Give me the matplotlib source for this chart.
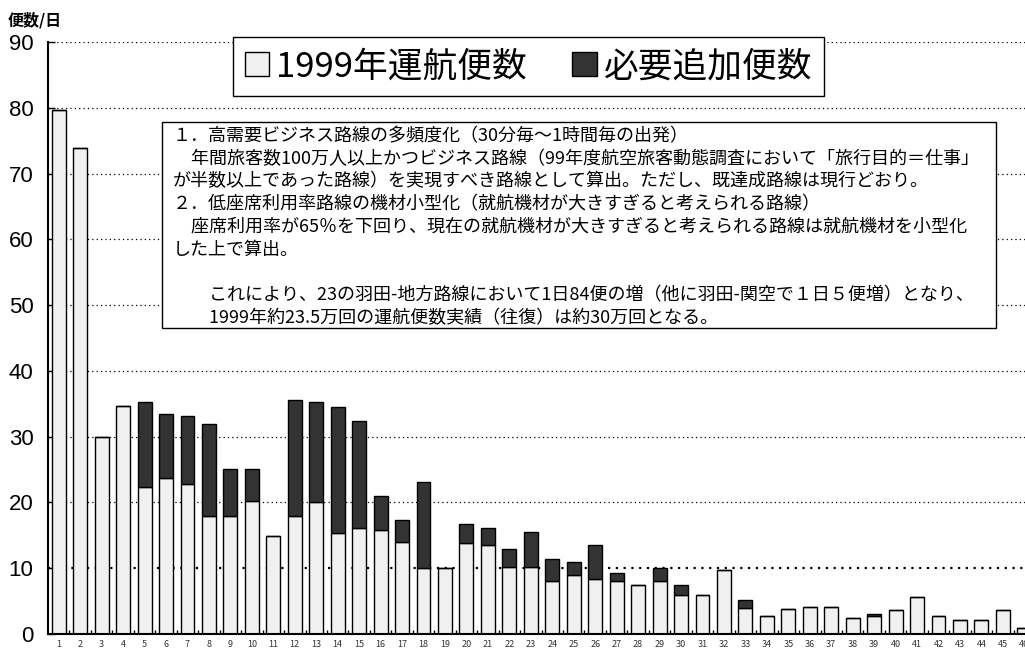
import numpy as np
import matplotlib
matplotlib.use("Agg")
import matplotlib.pyplot as plt
from matplotlib.patches import Patch, Rectangle

plt.rcParams['font.family'] = ['Noto Sans CJK JP', 'DejaVu Sans']

## DATA
routes = list(range(1, 47))
flights_1999 = [79.7, 73.9, 30.0, 34.7, 22.3, 23.7, 22.8, 18.0, 18.0, 20.2,
                14.9, 18.0, 20.0, 15.3, 16.1, 15.8, 14.0, 10.1, 10.0, 13.8,
                13.5, 10.2, 10.2, 8.0, 8.9, 8.4, 8.0, 7.5, 8.0, 6.0,
                6.0, 9.7, 4.0, 2.8, 3.75, 4.05, 4.05, 2.4, 2.7, 3.6,
                5.7, 2.8, 2.1, 2.1, 3.6, 0.9]
flights_added = [0, 0, 0, 0, 12.9, 9.8, 10.4, 14.0, 7.1, 4.9,
                 0, 17.6, 15.3, 19.2, 16.3, 5.2, 3.4, 13.0, 0, 2.9,
                 2.6, 2.7, 5.3, 3.4, 2.0, 5.1, 1.2, 0, 2.0, 1.4,
                 0, 0, 1.2, 0, 0, 0, 0, 0, 0.4, 0,
                 0, 0, 0, 0, 0, 0]
yticks = list(range(0, 91, 10))
legend_labels = ['1999年運航便数', '必要追加便数']
note_lines = [
    '１．高需要ビジネス路線の多頻度化（30分毎～1時間毎の出発）',
    '　年間旅客数100万人以上かつビジネス路線（99年度航空旅客動態調査において「旅行目的＝仕事」',
    'が半数以上であった路線）を実現すべき路線として算出。ただし、既達成路線は現行どおり。',
    '２．低座席利用率路線の機材小型化（就航機材が大きすぎると考えられる路線）',
    '　座席利用率が65％を下回り、現在の就航機材が大きすぎると考えられる路線は就航機材を小型化',
    'した上で算出。',
    '',
    '　　これにより、23の羽田-地方路線において1日84便の増（他に羽田-関空で１日５便増）となり、',
    '　　1999年約23.5万回の運航便数実績（往復）は約30万回となる。',
]

W, H = 1025, 653
base_color = '#f0f0f0'
add_color = '#333333'

fig = plt.figure(figsize=(W / 100, H / 100), dpi=100)
ax = fig.add_axes([48 / W, 19 / H, 977 / W, 592 / H])

x = np.array(routes)
ax.bar(x, flights_1999, width=0.65, color=base_color, edgecolor='black', linewidth=1.0, zorder=2)
ax.bar(x, flights_added, bottom=flights_1999, width=0.65, color=add_color,
       edgecolor='black', linewidth=1.0, zorder=2)

ax.set_xlim(0.5, 46.03)
ax.set_ylim(0, 90)

# dotted gridlines
ax.set_yticks(yticks)
ax.yaxis.grid(True, color='black', linestyle=(0, (1, 2.5)), linewidth=0.9, zorder=1)
ax.set_axisbelow(True)
for i, gl in enumerate(ax.get_ygridlines()):
    if yticks[i] == 10:
        gl.set_linewidth(1.6)

ax.tick_params(axis='y', direction='in', length=5, width=1, pad=10.5, labelsize=16)
for lab in ax.get_yticklabels():
    lab.set_fontfamily('Liberation Sans')

ax.set_xticks(x)
ax.set_xticklabels([str(r) for r in routes])
ax.set_xticks(np.arange(1.5, 46, 1), minor=True)
ax.tick_params(axis='x', which='major', length=0, pad=4.5, labelsize=6.5, labelcolor='#333333')
ax.tick_params(axis='x', which='minor', direction='in', length=3, width=1)

for s in ('top', 'right'):
    ax.spines[s].set_visible(False)
for s in ('left', 'bottom'):
    ax.spines[s].set_linewidth(1.5)

# legend
handles = [Patch(facecolor=base_color, edgecolor='black', label=legend_labels[0]),
           Patch(facecolor=add_color, edgecolor='black', label=legend_labels[1])]
leg = ax.legend(handles=handles, ncol=2, loc='upper left',
                bbox_to_anchor=(233 / W, 1 - 37 / H), bbox_transform=fig.transFigure,
                fontsize=25, frameon=True, fancybox=False, framealpha=1, edgecolor='black',
                borderaxespad=0, handlelength=0.7, handleheight=0.7, handletextpad=0.2,
                columnspacing=1.3, borderpad=0.35)
leg.get_frame().set_linewidth(1.0)
leg.set_zorder(5)

# note box
fig.patches.append(Rectangle((162 / W, 1 - 328 / H), (996 - 162) / W, (328 - 122) / H,
                             transform=fig.transFigure, facecolor='white', edgecolor='black',
                             linewidth=1.0, zorder=4))
for i, line in enumerate(note_lines):
    if line:
        fig.text(173 / W, 1 - (136 + i * 22.7) / H, line, fontsize=13,
                 va='center', ha='left', zorder=5)

fig.text(8 / W, 1 - 20 / H, '便数/日', fontsize=11.5, fontweight='bold', va='center', ha='left')

fig.savefig('out.png', dpi=100)
